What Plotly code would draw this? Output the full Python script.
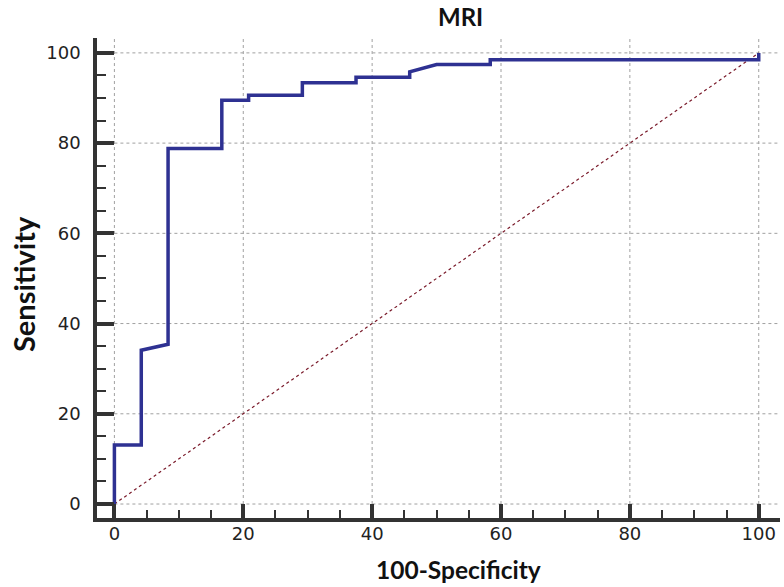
import plotly.graph_objects as go

# ROC curve (100-Specificity, Sensitivity)
fpr = [0, 0, 4.17, 4.17, 8.33, 8.33, 16.67, 16.67, 20.83, 20.83, 29.17, 29.17,
       37.5, 37.5, 45.83, 45.83, 50.0, 58.33, 58.33, 100, 100]
tpr = [0, 13.1, 13.1, 34.1, 35.4, 78.8, 78.8, 89.5, 89.5, 90.6, 90.6, 93.4,
       93.4, 94.6, 94.6, 95.8, 97.4, 97.4, 98.5, 98.5, 100]

ref_x = [0, 100]
ref_y = [0, 100]

major_ticks = [0, 20, 40, 60, 80, 100]
title_text = "MRI"
x_title = "100-Specificity"
y_title = "Sensitivity"

fig = go.Figure()
fig.add_trace(go.Scatter(x=ref_x, y=ref_y, mode="lines",
                         line=dict(color="#7a1a2a", width=1.2, dash="dot"),
                         hoverinfo="skip"))
fig.add_trace(go.Scatter(x=fpr, y=tpr, mode="lines",
                         line=dict(color="#2e3192", width=3.5, shape="linear")))

XR = [-2.7, 103.3]
YR = [-3.1, 103.3]

shapes = []
for v in major_ticks:
    shapes.append(dict(type="line", xref="x", yref="y", x0=v, x1=v, y0=0, y1=YR[1],
                       line=dict(color="#a0a0a0", width=1, dash="dot"), layer="below"))
    shapes.append(dict(type="line", xref="x", yref="y", x0=0, x1=XR[1], y0=v, y1=v,
                       line=dict(color="#a0a0a0", width=1, dash="dot"), layer="below"))

# plot area at 97..780 x 38..518 in the 784x587 window
PL, PT, PR, PB = 97, 38, 780, 518
W, H = 784, 587
PW, PH = PR - PL, PB - PT

tickfont = dict(family="DejaVu Sans", size=18, color="#222")
fig.update_layout(
    width=W, height=H,
    margin=dict(l=PL, r=W - PR, t=PT, b=H - PB),
    plot_bgcolor="white", paper_bgcolor="white",
    showlegend=False,
    shapes=shapes,
    xaxis=dict(range=XR, tickvals=major_ticks, showgrid=False, zeroline=False,
               showline=True, linecolor="#333", linewidth=3.5,
               ticks="inside", ticklen=14, tickwidth=4, tickcolor="#333",
               minor=dict(dtick=5, tick0=0, ticks="inside", ticklen=8, tickwidth=2,
                          tickcolor="#333", showgrid=False),
               ticklabelstandoff=-3,
               tickfont=tickfont),
    yaxis=dict(range=YR, tickvals=major_ticks, showgrid=False, zeroline=False,
               showline=True, linecolor="#333", linewidth=3.5,
               ticks="inside", ticklen=17, tickwidth=4, tickcolor="#333",
               minor=dict(dtick=5, tick0=0, ticks="inside", ticklen=9, tickwidth=2,
                          tickcolor="#333", showgrid=False),
               ticklabelstandoff=9,
               tickfont=tickfont),
    annotations=[
        dict(text="<b>" + title_text + "</b>", xref="paper", yref="paper",
             x=(460 - PL) / PW, y=1 + (PT - 16.5) / PH, xanchor="center", yanchor="middle",
             showarrow=False, font=dict(family="Lato", size=24, color="#111")),
        dict(text="<b>" + x_title + "</b>", xref="paper", yref="paper",
             x=(458 - PL) / PW, y=-(569 - PB) / PH, xanchor="center", yanchor="middle",
             showarrow=False, font=dict(family="Lato", size=24.5, color="#111")),
        dict(text="<b>" + y_title + "</b>", xref="paper", yref="paper",
             x=-(PL - 23) / PW, y=(PB - 284) / PH, xanchor="center", yanchor="middle",
             textangle=-90,
             showarrow=False, font=dict(family="Lato", size=29, color="#111")),
    ],
)

fig.write_html("out.html",
               config={"displayModeBar": False},
               post_script="document.body.style.margin='0';document.body.style.padding='0';")
